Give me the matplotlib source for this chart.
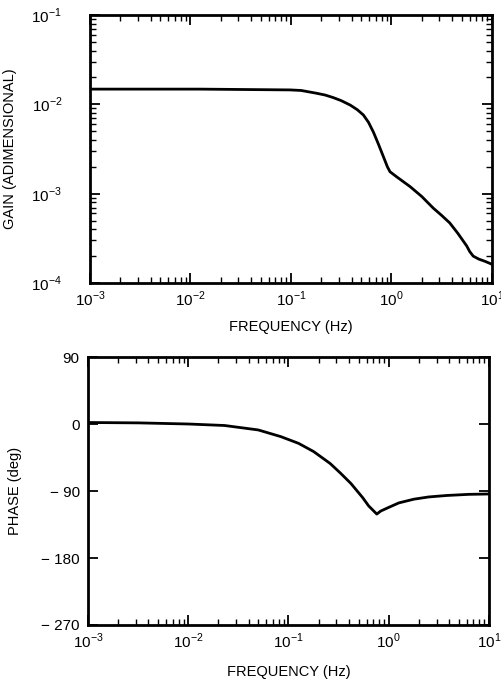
import matplotlib
matplotlib.use("Agg")
import matplotlib.pyplot as plt
import numpy as np
from matplotlib.ticker import LogLocator, FixedLocator, NullFormatter

plt.rcParams['font.family'] = ['Liberation Sans', 'DejaVu Sans']
plt.rcParams['mathtext.fontset'] = 'custom'
plt.rcParams['mathtext.rm'] = 'Liberation Sans'

# gain curve (frequency in Hz, gain adimensional)
gain_freq = [1e-3, 0.0124, 0.098, 0.126, 0.18, 0.219, 0.263, 0.316, 0.389,
             0.457, 0.525, 0.59, 0.66, 0.74, 0.83, 0.91, 0.966, 1.12, 1.53,
             2.0, 2.6, 3.16, 3.8, 4.57, 5.6, 6.0, 6.5, 7.4, 8.5, 10.0]
gain_val = [0.0148, 0.0148, 0.0145, 0.0143, 0.0133, 0.0127, 0.0119, 0.0110,
            0.0098, 0.0087, 0.0076, 0.0063, 0.0049, 0.0036, 0.0026, 0.0020,
            0.00176, 0.00155, 0.0012, 9.3e-4, 6.9e-4, 5.7e-4, 4.7e-4, 3.6e-4,
            2.6e-4, 2.25e-4, 2.0e-4, 1.85e-4, 1.75e-4, 1.62e-4]

# phase curve (frequency in Hz, phase in deg)
phase_freq = [1e-3, 0.0032, 0.01, 0.023, 0.05, 0.084, 0.126, 0.178, 0.26,
              0.33, 0.42, 0.55, 0.63, 0.76, 0.83, 1.0, 1.26, 1.78, 2.5, 3.8,
              6.3, 10.0]
phase_val = [2, 1.5, 0, -2, -8, -17, -26, -37, -53, -66, -80, -99, -110,
             -121, -117, -112, -106, -101, -98, -96, -94.5, -94]

freq_ticks = [1e-3, 1e-2, 1e-1, 1e0, 1e1]
freq_labels = [r'$10^{-3}$', r'$10^{-2}$', r'$10^{-1}$', r'$10^{0}$', r'$10^{1}$']
gain_ticks = [1e-4, 1e-3, 1e-2, 1e-1]
gain_labels = [r'$10^{-4}$', r'$10^{-3}$', r'$10^{-2}$', r'$10^{-1}$']
phase_ticks = [90, 0, -90, -180, -270]
phase_labels = ['90', '0', '\u2212 90', '\u2212 180', '\u2212 270']


def style_axes(ax, ypad):
    for s in ax.spines.values():
        s.set_linewidth(2.0)
    ax.tick_params(which='both', direction='in', top=True, right=True,
                   labelsize=11)
    ax.tick_params(which='major', length=7, width=1.3)
    ax.tick_params(which='minor', length=4, width=1.0)
    ax.tick_params(axis='x', pad=5)
    ax.tick_params(axis='y', pad=ypad)


fig = plt.figure(figsize=(5.02, 6.83), dpi=100)

ax1 = fig.add_axes([90 / 502, 1 - 283 / 683, 402 / 502, 268 / 683])
ax1.loglog(gain_freq, gain_val, color='black', lw=2.0)
ax1.set_xlim(1e-3, 1e1)
ax1.set_ylim(1e-4, 1e-1)
ax1.xaxis.set_major_locator(FixedLocator(freq_ticks))
ax1.set_xticklabels(freq_labels)
ax1.xaxis.set_minor_locator(LogLocator(base=10, subs=np.arange(2, 10), numticks=20))
ax1.xaxis.set_minor_formatter(NullFormatter())
ax1.yaxis.set_major_locator(FixedLocator(gain_ticks))
ax1.set_yticklabels(gain_labels)
ax1.yaxis.set_minor_locator(LogLocator(base=10, subs=np.arange(2, 10), numticks=20))
ax1.yaxis.set_minor_formatter(NullFormatter())
style_axes(ax1, 20)
ax1.set_xlabel('FREQUENCY (Hz)', fontsize=10.5, labelpad=8)
ax1.set_ylabel('GAIN (ADIMENSIONAL)', fontsize=10.5, labelpad=10)

ax2 = fig.add_axes([88 / 502, 1 - 625 / 683, 401 / 502, 268 / 683])
ax2.semilogx(phase_freq, phase_val, color='black', lw=2.0)
ax2.set_xlim(1e-3, 1e1)
ax2.set_ylim(-270, 90)
ax2.xaxis.set_major_locator(FixedLocator(freq_ticks))
ax2.set_xticklabels(freq_labels)
ax2.xaxis.set_minor_locator(LogLocator(base=10, subs=np.arange(2, 10), numticks=20))
ax2.xaxis.set_minor_formatter(NullFormatter())
ax2.yaxis.set_major_locator(FixedLocator(phase_ticks))
ax2.set_yticklabels(phase_labels)
style_axes(ax2, 6)
ax2.set_xlabel('FREQUENCY (Hz)', fontsize=10.5, labelpad=10)
ax2.set_ylabel('PHASE (deg)', fontsize=10.5, labelpad=14)

fig.savefig('out.png', dpi=100)
